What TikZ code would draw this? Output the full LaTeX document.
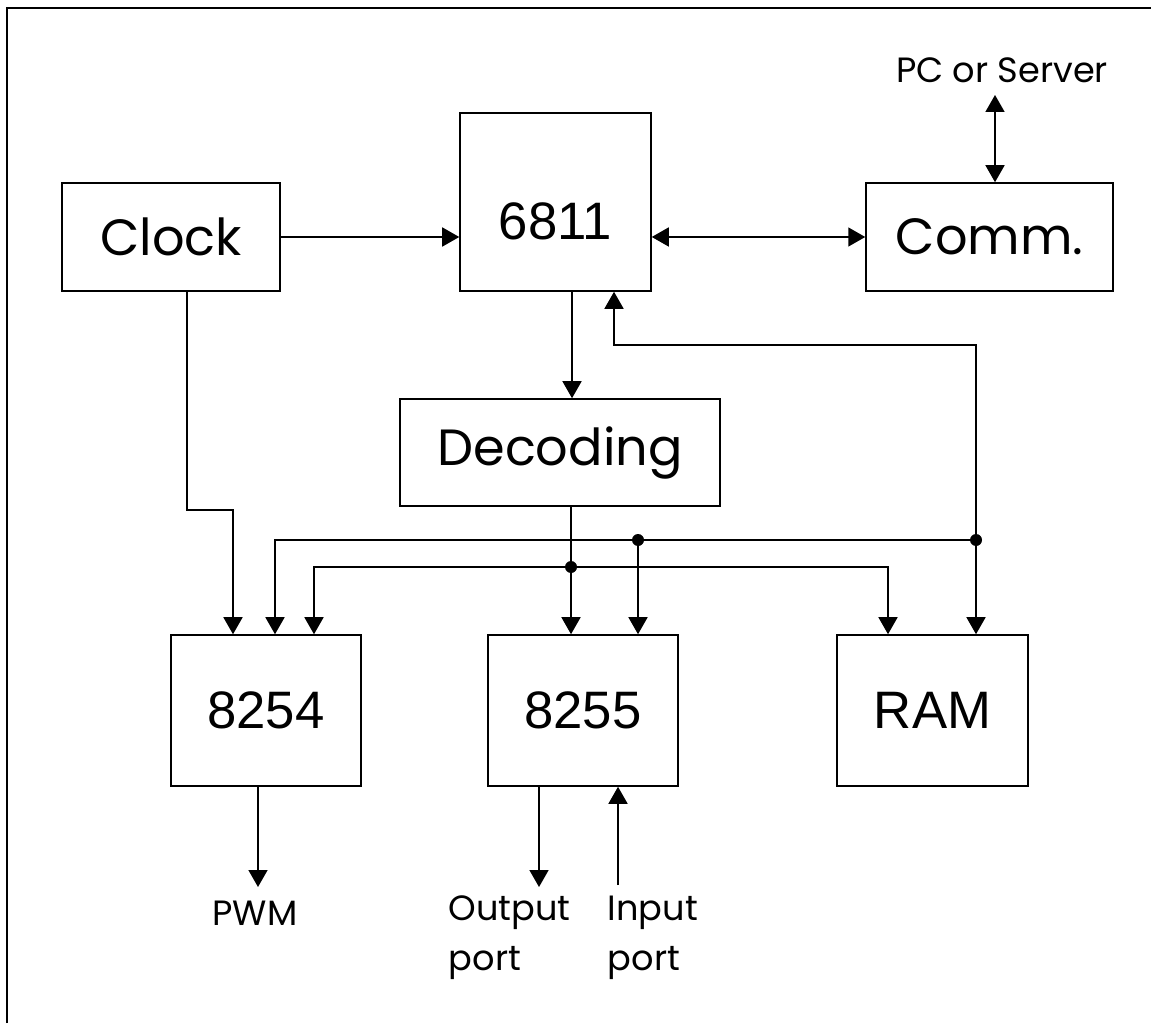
\documentclass[tikz,border=0pt]{standalone}
\usepackage{fontspec}
\setmainfont{Liberation Sans}
\newfontfamily\gothic{Poppins}
\usetikzlibrary{arrows.meta}

\begin{document}
\begin{tikzpicture}[x=0.02cm, y=-0.02cm, line width=0.9pt,
  >={Triangle[width=0.38cm,length=0.34cm]},
  blk/.style={draw, inner sep=0pt},
  big/.style={font=\fontsize{30}{36}\selectfont},
  wrd/.style={font=\gothic\fontsize{29}{36}\selectfont},
  small/.style={font=\gothic\fontsize{20}{28.5}\selectfont, inner sep=0pt, align=left},
  jdot/.style={radius=0.12cm}]

  \useasboundingbox (0,0) rectangle (1151,1023);

  % ---- page frame ----
  \coordinate (fa) at (7,1023);
  \coordinate (fb) at (7,8);
  \coordinate (fc) at (1151,8);
  \draw[line width=1.3pt] (fa) -- (fb) -- (fc);

  % ---- top row: clock, cpu, comm ----
  \node[blk, wrd, minimum width=4.36cm, minimum height=2.16cm] (clock) at (171,237) {Clock};
  \node[blk, minimum width=3.82cm, minimum height=3.56cm] (cpu) at (555.5,202) {};
  \node[big] (cpulbl) at (555.5,221) {6811};
  \node[blk, wrd, minimum width=4.94cm, minimum height=2.16cm] (comm) at (989.5,237) {Comm.};
  \node[small] (pc) at (1002,70) {PC or Server};

  \draw[->] (clock.east) -- (clock.east -| cpu.west);
  \draw[<->] (cpu.east |- comm.west) -- (comm.west);
  \coordinate (pcport) at (995,95);
  \draw[<->] (pcport) -- (pcport |- comm.north);

  % ---- decoder ----
  \node[blk, wrd, minimum width=6.4cm, minimum height=2.14cm] (dec) at (560,452.5) {Decoding};
  \coordinate (decin) at (572,300);
  \draw[->] (decin |- cpu.south) -- (decin |- dec.north);

  % ---- bottom row: 8254, 8255, RAM ----
  \node[blk, big, minimum width=3.8cm, minimum height=3.02cm] (timer) at (266,710.5) {8254};
  \node[blk, big, minimum width=3.8cm, minimum height=3.02cm] (ppi) at (583,710.5) {8255};
  \node[blk, big, minimum width=3.82cm, minimum height=3.02cm] (ram) at (932.5,710.5) {RAM};

  % ---- buses ----
  \coordinate (ckbend) at (233,510);
  \coordinate (b1w) at (275,540);
  \coordinate (j1) at (638,540);
  \coordinate (j2) at (976,540);
  \coordinate (b2w) at (314,567);
  \coordinate (decj) at (571,567);
  \coordinate (b2e) at (888,567);
  \coordinate (fbk) at (976,345);
  \coordinate (fbw) at (614,345);

  \draw[->] ([xshift=0.32cm]clock.south) |- (ckbend) -- (ckbend |- timer.north);
  \draw[<->] (b1w |- timer.north) -- (b1w) -- (j2) -- (j2 |- ram.north);
  \draw[<->] (b2w |- timer.north) -- (b2w) -- (b2e) -- (b2e |- ram.north);
  \draw[->] (decj |- dec.south) -- (decj |- ppi.north);
  \draw[->] (j1) -- (j1 |- ppi.north);
  \draw[->] (j2) -- (fbk) -- (fbw) -- (fbw |- cpu.south);

  \fill (j1) circle[jdot];
  \fill (j2) circle[jdot];
  \fill (decj) circle[jdot];

  % ---- outputs ----
  \coordinate (pwmtip) at (258,887);
  \coordinate (outtip) at (539,887);
  \coordinate (inpin) at (618,885);
  \draw[->] (pwmtip |- timer.south) -- (pwmtip);
  \draw[->] (outtip |- ppi.south) -- (outtip);
  \draw[->] (inpin) -- (inpin |- ppi.south);

  \node[small, anchor=base] (pwm) at (255,925) {PWM};
  \node[small, anchor=north west] (outport) at (448,895) {Output\\port};
  \node[small, anchor=north west] (inport) at (607,895) {Input\\port};

\end{tikzpicture}
\end{document}
